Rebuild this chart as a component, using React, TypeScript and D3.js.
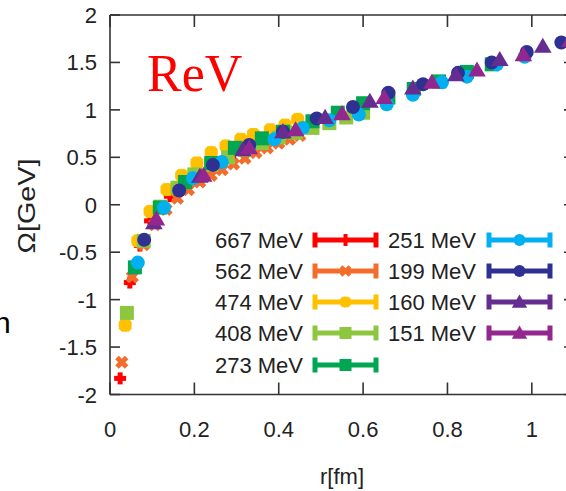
import React from "react";
import * as d3 from "d3";

const W = 566;
const H = 491;

const seriesNames = ["667 MeV", "562 MeV", "474 MeV", "408 MeV", "273 MeV", "251 MeV", "199 MeV", "160 MeV", "151 MeV"];
const seriesColors = ["#ff0000", "#f36c2b", "#ffc000", "#8dc63f", "#00a651", "#00b0f0", "#2e3192", "#662d91", "#92278f"];
const seriesShapes = ["plus", "cross", "star", "square", "square", "circle", "circle", "triangle", "triangle"];

const r667 = [0.024, 0.047, 0.071, 0.095, 0.118, 0.142, 0.166, 0.19, 0.213, 0.237, 0.26, 0.285];
const o667 = [-1.83, -0.82, -0.43, -0.17, -0.03, 0.09, 0.18, 0.26, 0.33, 0.39, 0.44, 0.49];
const r562 = [0.028, 0.053, 0.08, 0.106, 0.133, 0.16, 0.186, 0.213, 0.24, 0.266, 0.293, 0.32, 0.346, 0.373, 0.4, 0.426, 0.45];
const o562 = [-1.66, -0.76, -0.42, -0.21, -0.05, 0.07, 0.16, 0.24, 0.31, 0.37, 0.43, 0.49, 0.55, 0.6, 0.65, 0.69, 0.73];
const r474 = [0.036, 0.066, 0.095, 0.135, 0.17, 0.206, 0.24, 0.275, 0.31, 0.34, 0.38, 0.415, 0.445];
const o474 = [-1.27, -0.38, -0.07, 0.16, 0.31, 0.44, 0.55, 0.62, 0.69, 0.74, 0.79, 0.84, 0.9];
const r408 = [0.04, 0.08, 0.12, 0.16, 0.2, 0.24, 0.28, 0.32, 0.36, 0.4, 0.44, 0.48, 0.52, 0.56, 0.6];
const o408 = [-1.14, -0.38, -0.02, 0.18, 0.32, 0.42, 0.5, 0.58, 0.65, 0.71, 0.76, 0.81, 0.86, 0.92, 0.97];
const r273 = [0.059, 0.118, 0.178, 0.24, 0.296, 0.36, 0.41, 0.48, 0.54, 0.6, 0.66, 0.72, 0.78, 0.846, 0.905];
const o273 = [-0.66, -0.03, 0.24, 0.44, 0.6, 0.7, 0.77, 0.88, 0.97, 1.07, 1.13, 1.22, 1.3, 1.4, 1.48];
const r251 = [0.066, 0.128, 0.197, 0.265, 0.33, 0.39, 0.457, 0.52, 0.59, 0.656, 0.718, 0.787, 0.846, 0.917, 0.983];
const o251 = [-0.61, -0.03, 0.28, 0.45, 0.6, 0.69, 0.81, 0.89, 0.95, 1.06, 1.16, 1.29, 1.35, 1.48, 1.56];
const r199 = [0.081, 0.164, 0.244, 0.33, 0.41, 0.49, 0.576, 0.66, 0.742, 0.825, 0.905, 0.988, 1.07];
const o199 = [-0.37, 0.15, 0.42, 0.63, 0.77, 0.91, 1.03, 1.18, 1.27, 1.39, 1.5, 1.61, 1.71];
const r160 = [0.104, 0.213, 0.315, 0.41, 0.51, 0.616, 0.718, 0.82, 0.924, 1.026];
const o160 = [-0.19, 0.3, 0.58, 0.77, 0.92, 1.09, 1.23, 1.37, 1.53, 1.67];
const r151 = [0.11, 0.222, 0.33, 0.44, 0.55, 0.65, 0.763, 0.87, 0.98, 1.09];
const o151 = [-0.15, 0.31, 0.6, 0.79, 0.96, 1.13, 1.29, 1.42, 1.58, 1.73];

const seriesR = [r667, r562, r474, r408, r273, r251, r199, r160, r151];
const seriesO = [o667, o562, o474, o408, o273, o251, o199, o160, o151];

const xTicks = [0, 0.2, 0.4, 0.6, 0.8, 1];
const xTickLabels = ["0", "0.2", "0.4", "0.6", "0.8", "1"];
const yTicks = [-2, -1.5, -1, -0.5, 0, 0.5, 1, 1.5, 2];
const yTickLabels = ["-2", "-1.5", "-1", "-0.5", "0", "0.5", "1", "1.5", "2"];

const x = d3.scaleLinear().domain([0, 1.1]).range([110, 574]);
const y = d3.scaleLinear().domain([-2, 2]).range([394.5, 15]);

function Marker({ shape, color, cx, cy, s, sw }: { shape: string; color: string; cx: number; cy: number; s: number; sw: number }) {
  if (shape === "plus") {
    return (
      <g stroke={color} strokeWidth={sw}>
        <line x1={cx - s * 0.5} x2={cx + s * 0.5} y1={cy} y2={cy} />
        <line x1={cx} x2={cx} y1={cy - s * 0.5} y2={cy + s * 0.5} />
      </g>
    );
  }
  if (shape === "cross") {
    const h = s * 0.4;
    return (
      <g stroke={color} strokeWidth={sw}>
        <line x1={cx - h} x2={cx + h} y1={cy - h} y2={cy + h} />
        <line x1={cx - h} x2={cx + h} y1={cy + h} y2={cy - h} />
      </g>
    );
  }
  if (shape === "star") {
    const h = s * 0.5;
    const d = s * 0.38;
    return (
      <g stroke={color} strokeWidth={sw}>
        <line x1={cx - h} x2={cx + h} y1={cy} y2={cy} />
        <line x1={cx} x2={cx} y1={cy - h} y2={cy + h} />
        <line x1={cx - d} x2={cx + d} y1={cy - d} y2={cy + d} />
        <line x1={cx - d} x2={cx + d} y1={cy + d} y2={cy - d} />
      </g>
    );
  }
  if (shape === "square") {
    return <rect x={cx - s / 2} y={cy - s / 2} width={s} height={s} fill={color} />;
  }
  if (shape === "circle") {
    return <circle cx={cx} cy={cy} r={s / 2} fill={color} />;
  }
  const h = s * 0.9;
  return (
    <path
      d={`M${cx},${cy - h * 0.6} L${cx + s * 0.55},${cy + h * 0.45} L${cx - s * 0.55},${cy + h * 0.45} Z`}
      fill={color}
    />
  );
}

const plotSizes: Record<string, number> = { plus: 12, cross: 12, star: 13, square: 14, circle: 14, triangle: 16 };
const legendSizes: Record<string, number> = { plus: 12, cross: 11, star: 11, square: 12, circle: 12, triangle: 14 };

export default function App() {
  const font = "'Liberation Sans', Arial, sans-serif";
  const axisColor = "#333";
  const legendRows = [240, 271, 302, 333, 365];
  return (
    <svg width={W} height={H} style={{ position: "absolute", left: 0, top: 0, background: "#fff" }}>
      <rect x={0} y={0} width={W} height={H} fill="#fff" />
      {/* frame */}
      <g stroke={axisColor} strokeWidth={1.6} fill="none">
        <line x1={x(0)} x2={x(0)} y1={y(2)} y2={y(-2)} />
        <line x1={x(0)} x2={x(1.1)} y1={y(-2)} y2={y(-2)} />
        <line x1={x(0)} x2={x(1.1)} y1={y(2)} y2={y(2)} />
        <line x1={x(1.1)} x2={x(1.1)} y1={y(2)} y2={y(-2)} />
        {yTicks.map((t) => (
          <g key={"yt" + t}>
            <line x1={x(0)} x2={x(0) + 10} y1={y(t)} y2={y(t)} />
            <line x1={x(1.1)} x2={x(1.1) - 10} y1={y(t)} y2={y(t)} />
          </g>
        ))}
        {xTicks.map((t) => (
          <g key={"xt" + t}>
            <line x1={x(t)} x2={x(t)} y1={y(-2)} y2={y(-2) - 12} />
            <line x1={x(t)} x2={x(t)} y1={y(2)} y2={y(2) + 12} />
          </g>
        ))}
      </g>
      {/* tick labels */}
      <g fontFamily={font} fontSize={22} fill="#222">
        {yTicks.map((t, i) => (
          <text key={"yl" + t} x={97} y={y(t) + 8} textAnchor="end">
            {yTickLabels[i]}
          </text>
        ))}
        {xTicks.map((t, i) => (
          <text key={"xl" + t} x={x(t)} y={437} textAnchor="middle">
            {xTickLabels[i]}
          </text>
        ))}
        <text x={342} y={484} textAnchor="middle">r[fm]</text>
        <text
          transform={`translate(35,206) rotate(-90)`}
          textAnchor="middle"
          fontSize={24}
          textLength={95}
          lengthAdjust="spacingAndGlyphs"
        >
          Ω[GeV]
        </text>
      </g>
      <text x={-6} y={333} fontFamily={font} fontSize={30} fill="#000">n</text>
      {/* ReV */}
      <text x={147} y={91} fontFamily="'Liberation Serif', 'Times New Roman', serif" fontSize={52} fill="#ff0000">
        ReV
      </text>
      {/* data */}
      <g>
        {seriesR.map((rs, si) =>
          rs.map((rv, pi) => (
            <Marker
              key={si + "-" + pi}
              shape={seriesShapes[si]}
              color={seriesColors[si]}
              cx={x(rv)}
              cy={y(seriesO[si][pi])}
              s={plotSizes[seriesShapes[si]]}
              sw={5}
            />
          ))
        )}
      </g>
      {/* legend */}
      <g fontFamily={font} fontSize={22} fill="#222">
        {seriesNames.map((name, i) => {
          const col = i < 5 ? 0 : 1;
          const row = i < 5 ? i : i - 5;
          const cy = legendRows[row];
          const textX = col === 0 ? 303 : 476;
          const x1 = col === 0 ? 314 : 488;
          const x2 = col === 0 ? 377 : 551;
          const c = seriesColors[i];
          return (
            <g key={name}>
              <text x={textX} y={cy + 8} textAnchor="end">{name}</text>
              <g stroke={c} strokeWidth={5}>
                <line x1={x1} x2={x2} y1={cy} y2={cy} />
                <line x1={x1 + 1} x2={x1 + 1} y1={cy - 7.5} y2={cy + 7.5} />
                <line x1={x2 - 1} x2={x2 - 1} y1={cy - 7.5} y2={cy + 7.5} />
              </g>
              <Marker shape={seriesShapes[i]} color={c} cx={(x1 + x2) / 2} cy={cy} s={legendSizes[seriesShapes[i]]} sw={4} />
            </g>
          );
        })}
      </g>
    </svg>
  );
}
